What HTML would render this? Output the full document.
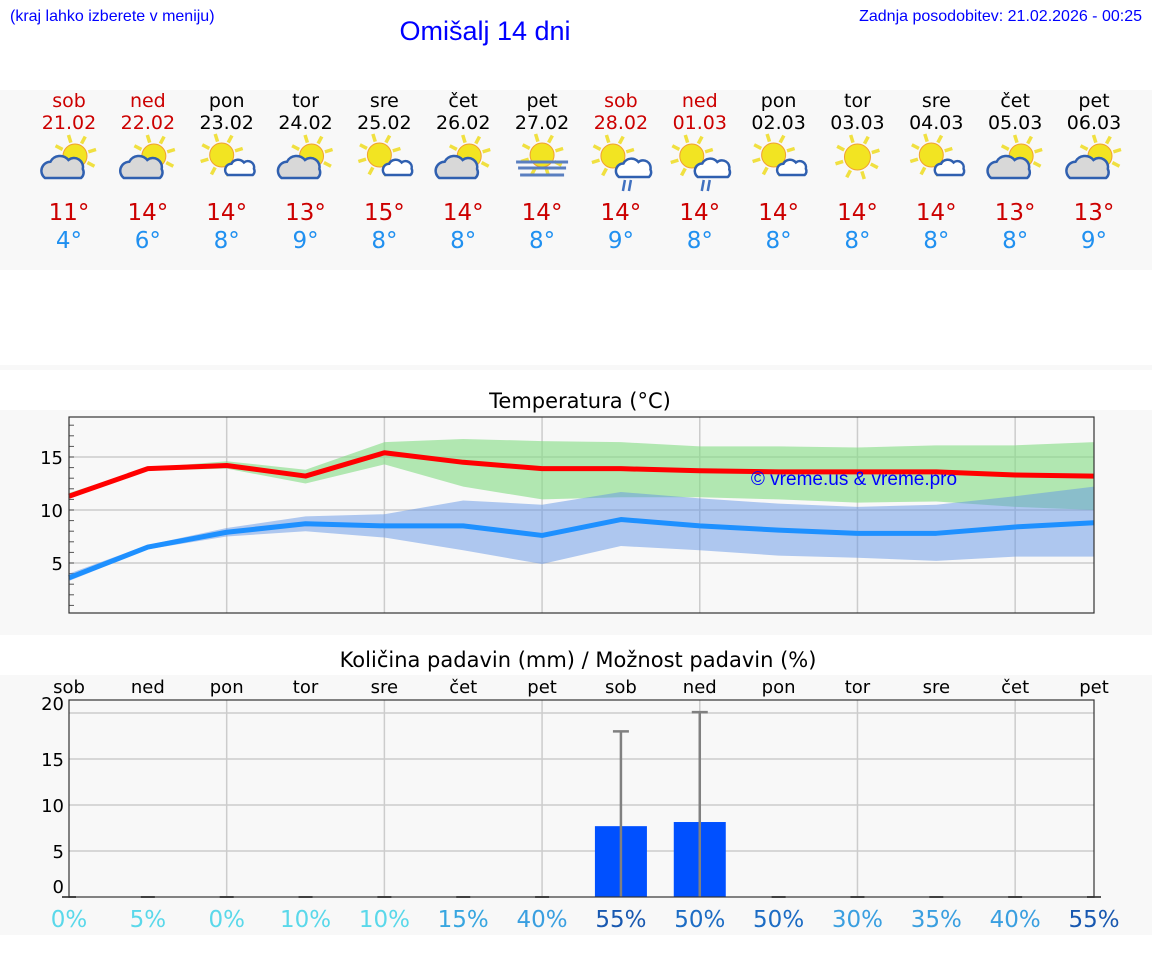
<!DOCTYPE html>
<html><head><meta charset="utf-8">
<style>
html,body{margin:0;padding:0;background:#fff;width:1152px;height:975px;overflow:hidden}
svg{display:block;font-family:"DejaVu Sans","Liberation Sans",sans-serif}
</style></head>
<body>
<svg id="s" width="1152" height="975" viewBox="0 0 1152 975" xmlns="http://www.w3.org/2000/svg">
<rect x="0" y="90" width="1152" height="180" fill="#f8f8f8"/>
<rect x="0" y="365" width="1152" height="5" fill="#f8f8f8"/>
<rect x="0" y="410" width="1152" height="225" fill="#f8f8f8"/>
<rect x="0" y="675" width="1152" height="260" fill="#f8f8f8"/>
<text x="10" y="21" font-family="Liberation Sans,sans-serif" font-size="16" fill="#0000ff">(kraj lahko izberete v meniju)</text>
<text x="485" y="40" text-anchor="middle" font-family="Liberation Sans,sans-serif" font-size="27" fill="#0000ff">Omišalj 14 dni</text>
<text x="1142" y="21" text-anchor="end" font-family="Liberation Sans,sans-serif" font-size="16" fill="#0000ff">Zadnja posodobitev: 21.02.2026 - 00:25</text>
<text x="580" y="408" text-anchor="middle" font-size="21" fill="#000">Temperatura (°C)</text>
<text x="578" y="667" text-anchor="middle" font-size="21" fill="#000">Količina padavin (mm) / Možnost padavin (%)</text>
<g id="days"></g>
<g id="temp"></g>
<g id="prec"></g>
</svg>
<script>
const dayNames=["sob","ned","pon","tor","sre","čet","pet","sob","ned","pon","tor","sre","čet","pet"];
const dates=["21.02","22.02","23.02","24.02","25.02","26.02","27.02","28.02","01.03","02.03","03.03","04.03","05.03","06.03"];
const icons=["A","A","B","A","B","A","F","R","R","B","S","B","A","A"];
const hiLabels=[11,14,14,13,15,14,14,14,14,14,14,14,13,13];
const loLabels=[4,6,8,9,8,8,8,9,8,8,8,8,8,9];
const tMax=[11.3,13.9,14.2,13.2,15.4,14.5,13.9,13.9,13.7,13.6,13.6,13.6,13.3,13.2];
const tMaxHi=[11.6,14.0,14.6,13.8,16.4,16.7,16.5,16.4,16.0,16.0,15.9,16.1,16.1,16.4];
const tMaxLo=[11.1,13.7,13.9,12.5,14.3,12.2,11.0,11.2,11.2,11.0,10.7,10.8,10.3,10.0];
const tMin=[3.6,6.5,7.9,8.7,8.5,8.5,7.6,9.1,8.5,8.1,7.8,7.8,8.4,8.8];
const tMinHi=[4.0,6.7,8.3,9.4,9.6,10.9,10.5,11.7,11.1,10.6,10.3,10.5,11.3,12.2];
const tMinLo=[3.3,6.3,7.5,8.0,7.4,6.2,4.9,6.6,6.2,5.7,5.5,5.2,5.6,5.6];
const tTicks=[5,10,15];
const precip=[0,0,0,0,0,0,0,7.7,8.15,0,0,0,0,0];
const precipMax=[0,0,0,0,0,0,0,18.0,20.1,0,0,0,0,0];
const chance=[0,5,0,10,10,15,40,55,50,50,30,35,40,55];
const pTicks=[0,5,10,15,20];
const NS="http://www.w3.org/2000/svg";
function mk(p,tag,a,txt){const e=document.createElementNS(NS,tag);for(const k in a)e.setAttribute(k,a[k]);if(txt!==undefined)e.textContent=txt;p.appendChild(e);return e;}
const X=i=>69+i*(1025/13);
const weekend=[0,1,7,8];
const D=document.getElementById('days');
function sun(g,cx,cy,r){for(let k=0;k<8;k++){const a=k*Math.PI/4-0.3;mk(g,'line',{x1:cx+Math.cos(a)*(r+2),y1:cy+Math.sin(a)*(r+2),x2:cx+Math.cos(a)*(r+10),y2:cy+Math.sin(a)*(r+10),stroke:'#f0e040','stroke-width':3.5});}
 mk(g,'circle',{cx:cx,cy:cy,r:r,fill:'#f2e422',stroke:'#f0a030','stroke-width':1});}
function cloud(g,x,y,s,fill){mk(g,'path',{d:`M${x} ${y} a${5*s} ${5*s} 0 0 1 ${3*s} ${-9*s} a${6*s} ${6*s} 0 0 1 ${10*s} ${-1*s} a${5*s} ${5*s} 0 0 1 ${8*s} ${5*s} a${4*s} ${4*s} 0 0 1 ${-1*s} ${5*s} z`,fill:fill,stroke:'#3060b0','stroke-width':2.5});}
dayNames.forEach((d,i)=>{
 const x=X(i);const col=weekend.includes(i)?'#cc0000':'#000';
 const g=mk(D,'g',{});
 
 
 mk(g,'text',{x:x,y:107,'text-anchor':'middle','font-size':19,fill:col},d);
 mk(g,'text',{x:x,y:129,'text-anchor':'middle','font-size':19,fill:col},dates[i]);
 const ic=mk(g,'g',{});
 
 
 const t=icons[i];
 if(t==='A'){sun(ic,x+6,156,12);cloud(ic,x-24,178,1.8,'#d8d8d8');}
 else if(t==='B'){sun(ic,x-5,155,12);cloud(ic,x+1,175,1.25,'#fff');}
 else if(t==='S'){sun(ic,x,157,13);}
 else if(t==='F'){sun(ic,x,155,12);[162,168,175].forEach((yy,k)=>mk(ic,'line',{x1:x-26+k*2,y1:yy,x2:x+26-k*2,y2:yy,stroke:'#5a7fc0','stroke-width':3}));}
 else {sun(ic,x-8,156,12);cloud(ic,x-2,177,1.5,'#fff');mk(ic,'path',{d:`M${x+4} ${180}l-2 11M${x+10} ${180}l-2 11`,stroke:'#4070c0','stroke-width':2.5});}
 mk(g,'text',{x:x,y:220,'text-anchor':'middle','font-size':23,fill:'#cc0000'},hiLabels[i]+'°');
 mk(g,'text',{x:x,y:248,'text-anchor':'middle','font-size':23,fill:'#2090f0'},loLabels[i]+'°');
});
const T=document.getElementById('temp');
const TY=v=>510-(v-10)*10.6;
mk(T,'rect',{x:69,y:417,width:1025,height:196,fill:'#f8f8f8'});
for(let i=2;i<14;i+=2)mk(T,'line',{x1:X(i),y1:417,x2:X(i),y2:613,stroke:'#ccc','stroke-width':1.5});
tTicks.forEach(v=>{mk(T,'line',{x1:69,y1:TY(v),x2:1094,y2:TY(v),stroke:'#ccc','stroke-width':1.5});
 const lb=mk(T,'text',{x:63,y:TY(v)+7,'text-anchor':'end','font-size':18,fill:'#000'},String(v));
 
 });
for(let v=1;v<=18;v++)mk(T,'line',{x1:69,y1:TY(v),x2:74,y2:TY(v),stroke:'#555','stroke-width':1});
function band(hi,lo,fill,name){let d='M'+hi.map((v,i)=>X(i)+' '+TY(v)).join('L');d+='L'+lo.map((v,i)=>X(i)+' '+TY(v)).reverse().join('L')+'Z';
 const p=mk(T,'path',{d:d,fill:fill});
 
 }
band(tMaxHi,tMaxLo,'rgba(130,220,130,0.6)','max-temp-range');
band(tMinHi,tMinLo,'rgba(100,150,230,0.5)','min-temp-range');
function line(arr,col,name){const p=mk(T,'polyline',{points:arr.map((v,i)=>X(i)+','+TY(v)).join(' '),fill:'none',stroke:col,'stroke-width':5,'stroke-linejoin':'round'});
 
 }
line(tMax,'#ff0000','max-temp-line');
line(tMin,'#1e90ff','min-temp-line');
mk(T,'text',{x:854,y:485,'text-anchor':'middle','font-family':'Liberation Sans,sans-serif','font-size':19,fill:'#0000ff'},'© vreme.us & vreme.pro');
mk(T,'rect',{x:69,y:417,width:1025,height:196,fill:'none',stroke:'#333','stroke-width':1.2});
const P=document.getElementById('prec');
const PY=v=>897-v*9.2;
mk(P,'rect',{x:69,y:700,width:1025,height:197,fill:'#f8f8f8'});
for(let i=2;i<14;i+=2)mk(P,'line',{x1:X(i),y1:700,x2:X(i),y2:897,stroke:'#ccc','stroke-width':1.5});
pTicks.forEach((v,k)=>{if(v>0)mk(P,'line',{x1:69,y1:PY(v),x2:1094,y2:PY(v),stroke:'#ccc','stroke-width':1.5});
 const yy=[893,858,812,766,710][k];
 const lb=mk(P,'text',{x:64,y:yy,'text-anchor':'end','font-size':18,fill:'#000'},String(v));
 
 });
const pcol=c=>c<=10?'#5ad8ea':c<=15?'#38a6e0':c<=40?'#3a9fe0':c===50?'#1c6cc4':'#1858b0';
dayNames.forEach((d,i)=>{const x=X(i);
 mk(P,'text',{x:x,y:693,'text-anchor':'middle','font-size':18,fill:'#000'},d);
 if(precip[i]>0){const b=mk(P,'rect',{x:x-26,y:PY(precip[i]),width:52,height:897-PY(precip[i]),fill:'#0050ff'});
  
  }
 else mk(P,'line',{x1:x-7,y1:897,x2:x+7,y2:897,stroke:'#555','stroke-width':2});
 if(precipMax[i]>0){mk(P,'line',{x1:x,y1:PY(precipMax[i]),x2:x,y2:897,stroke:'#808080','stroke-width':2.5});
  mk(P,'line',{x1:x-8,y1:PY(precipMax[i]),x2:x+8,y2:PY(precipMax[i]),stroke:'#808080','stroke-width':2.5});}
 const t=mk(P,'text',{x:x,y:927,'text-anchor':'middle','font-size':23,fill:pcol(chance[i])},chance[i]+'%');
 
 
});
mk(P,'rect',{x:69,y:700,width:1025,height:197,fill:'none',stroke:'#333','stroke-width':1.2});
</script>
</body></html>
